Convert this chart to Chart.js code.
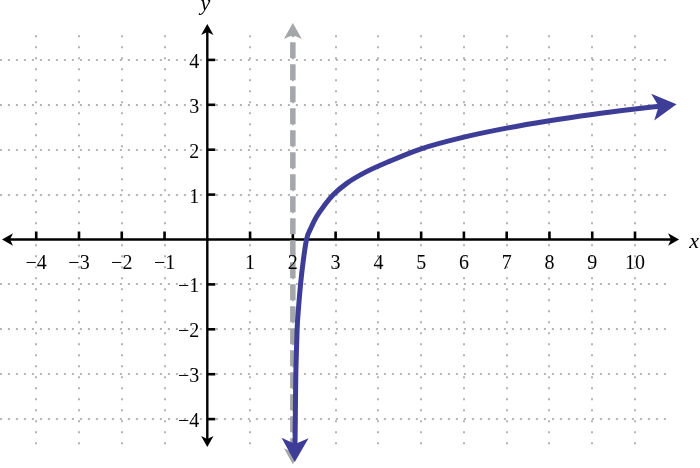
<!DOCTYPE html>
<html>
<head>
<meta charset="utf-8">
<script src="https://cdn.jsdelivr.net/npm/chart.js@4/dist/chart.umd.min.js"></script>
<style>
  html, body { margin: 0; padding: 0; background: #ffffff; }
  canvas { display: block; }
</style>
</head>
<body>
<canvas id="c" width="700" height="468"></canvas>
<script>
// ---- data ----
const xTickValues = [-4, -3, -2, -1, 1, 2, 3, 4, 5, 6, 7, 8, 9, 10];
const xTickLabels = ['\u22124', '\u22123', '\u22122', '\u22121', '1', '2', '3', '4', '5', '6', '7', '8', '9', '10'];
const yTickValues = [-4, -3, -2, -1, 1, 2, 3, 4];
const yTickLabels = ['\u22124', '\u22123', '\u22122', '\u22121', '1', '2', '3', '4'];

// curve
const curveX = [2.05, 2.058, 2.063, 2.07, 2.084, 2.10, 2.135, 2.18, 2.24, 2.32, 2.42, 2.55, 2.73, 2.95, 3.26, 3.7, 4.28, 5.0, 6, 7, 8, 9, 10, 10.6];
const curveY = [-4.6, -4.0, -3.5, -3.0, -2.5, -2.0, -1.5, -1.0, -0.5, 0.0, 0.25, 0.5, 0.75, 1.0, 1.25, 1.5, 1.75, 2.02, 2.28, 2.48, 2.645, 2.785, 2.905, 2.97];

// vertical asymptote x = 2
const asymX = [2, 2];
const asymY = [-4.78, 4.6];

// view / axis extents
const xView = [-4.847, 11.52];
const yView = [-5.089, 5.334];
const xAxisEnds = [-4.80, 11.03];
const yAxisEnds = [-4.62, 4.80];
const gridXRange = [-4.85, 10.77];
const gridYRange = [-4.58, 4.55];

const BLUE = '#3d3d97';
const GRAY = '#a4a6a9';

function pts(xs, ys) { return xs.map((v, i) => ({ x: v, y: ys[i] })); }

function arrowHead(ctx, tx, ty, dx, dy, len, half, notch, color) {
  const px = -dy, py = dx;
  ctx.beginPath();
  ctx.moveTo(tx, ty);
  ctx.lineTo(tx - dx * len + px * half, ty - dy * len + py * half);
  ctx.lineTo(tx - dx * (len - notch), ty - dy * (len - notch));
  ctx.lineTo(tx - dx * len - px * half, ty - dy * len - py * half);
  ctx.closePath();
  ctx.fillStyle = color;
  ctx.fill();
}

function endArrow(ctx, meta, fromStart, len, half, notch, color) {
  const els = meta.data;
  const a = fromStart ? els[0] : els[els.length - 1];
  const b = fromStart ? els[1] : els[els.length - 2];
  let dx = a.x - b.x, dy = a.y - b.y;
  const d = Math.hypot(dx, dy); dx /= d; dy /= d;
  const k = len - notch - 2;
  arrowHead(ctx, a.x + dx * k, a.y + dy * k, dx, dy, len, half, notch, color);
}

const axesPlugin = {
  id: 'axesPlugin',
  beforeDatasetsDraw(chart) {
    const ctx = chart.ctx;
    const xs = chart.scales.x, ys = chart.scales.y;
    ctx.save();
    // dotted grid
    ctx.strokeStyle = '#9c9c9c';
    ctx.lineWidth = 1.5;
    ctx.setLineDash([2, 9]);
    const gt = ys.getPixelForValue(gridYRange[1]), gb = ys.getPixelForValue(gridYRange[0]);
    xTickValues.forEach(v => {
      const p = Math.round(xs.getPixelForValue(v));
      ctx.beginPath(); ctx.moveTo(p, gt); ctx.lineTo(p, gb); ctx.stroke();
    });
    ctx.setLineDash([2, 6]);
    const gl = xs.getPixelForValue(gridXRange[0]), gr = xs.getPixelForValue(gridXRange[1]);
    yTickValues.forEach(v => {
      const p = Math.round(ys.getPixelForValue(v));
      ctx.beginPath(); ctx.moveTo(gl, p); ctx.lineTo(gr, p); ctx.stroke();
    });
    ctx.setLineDash([]);
    // axes
    const x0 = xs.getPixelForValue(0), y0 = ys.getPixelForValue(0);
    const xl = xs.getPixelForValue(xAxisEnds[0]), xr = xs.getPixelForValue(xAxisEnds[1]);
    const yt = ys.getPixelForValue(yAxisEnds[1]), yb = ys.getPixelForValue(yAxisEnds[0]);
    ctx.strokeStyle = '#000';
    ctx.lineWidth = 2.4;
    ctx.beginPath(); ctx.moveTo(xl + 8, y0); ctx.lineTo(xr - 8, y0); ctx.stroke();
    ctx.beginPath(); ctx.moveTo(x0, yt + 8); ctx.lineTo(x0, yb - 8); ctx.stroke();
    arrowHead(ctx, xr, y0, 1, 0, 11, 6.2, 3, '#000');
    arrowHead(ctx, xl, y0, -1, 0, 11, 6.2, 3, '#000');
    arrowHead(ctx, x0, yt, 0, -1, 11, 6.2, 3, '#000');
    arrowHead(ctx, x0, yb, 0, 1, 11, 6.2, 3, '#000');
    // tick marks
    ctx.lineWidth = 2.6;
    xTickValues.forEach(v => {
      const p = xs.getPixelForValue(v);
      ctx.beginPath(); ctx.moveTo(p, y0 - 8); ctx.lineTo(p, y0); ctx.stroke();
    });
    yTickValues.forEach(v => {
      const p = ys.getPixelForValue(v);
      ctx.beginPath(); ctx.moveTo(x0, p); ctx.lineTo(x0 + 8, p); ctx.stroke();
    });
    ctx.restore();
  },
  afterDatasetsDraw(chart) {
    const ctx = chart.ctx;
    const xs = chart.scales.x, ys = chart.scales.y;
    ctx.save();
    // arrowheads on the asymptote and curve
    const mAsym = chart.getDatasetMeta(1);
    const mCurve = chart.getDatasetMeta(0);
    endArrow(ctx, mAsym, false, 16, 9, 4, GRAY);
    endArrow(ctx, mAsym, true, 16, 9, 4, GRAY);
    endArrow(ctx, mCurve, false, 24, 13.5, 6, BLUE);
    endArrow(ctx, mCurve, true, 24, 13.5, 6, BLUE);
    // tick labels
    const x0 = xs.getPixelForValue(0), y0 = ys.getPixelForValue(0);
    ctx.fillStyle = '#000';
    ctx.font = '20px "Liberation Serif", "Times New Roman", serif';
    ctx.textAlign = 'center';
    ctx.textBaseline = 'alphabetic';
    xTickValues.forEach((v, i) => {
      ctx.fillText(xTickLabels[i], xs.getPixelForValue(v), y0 + 29);
    });
    ctx.textAlign = 'right';
    yTickValues.forEach((v, i) => {
      ctx.fillText(yTickLabels[i], x0 - 8, ys.getPixelForValue(v) + 8);
    });
    // axis titles
    ctx.font = 'italic 22px "Liberation Serif", "Times New Roman", serif';
    ctx.textAlign = 'center';
    ctx.fillText('x', xs.getPixelForValue(xAxisEnds[1]) + 15, y0 + 8);
    ctx.fillText('y', x0 - 2, ys.getPixelForValue(yAxisEnds[1]) - 14);
    ctx.restore();
  }
};

new Chart(document.getElementById('c'), {
  type: 'scatter',
  data: {
    datasets: [
      {
        data: pts(curveX, curveY),
        showLine: true,
        borderColor: BLUE,
        borderWidth: 5,
        pointRadius: 0,
        cubicInterpolationMode: 'monotone',
        clip: false
      },
      {
        data: pts(asymX, asymY),
        showLine: true,
        borderColor: GRAY,
        borderWidth: 5.5,
        borderDash: [16, 6],
        pointRadius: 0,
        clip: false
      }
    ]
  },
  options: {
    responsive: false,
    devicePixelRatio: 1,
    animation: false,
    layout: { padding: 0 },
    plugins: { legend: { display: false }, tooltip: { enabled: false } },
    events: [],
    scales: {
      x: { type: 'linear', min: xView[0], max: xView[1], display: false },
      y: { type: 'linear', min: yView[0], max: yView[1], display: false }
    }
  },
  plugins: [axesPlugin]
});
</script>
</body>
</html>
